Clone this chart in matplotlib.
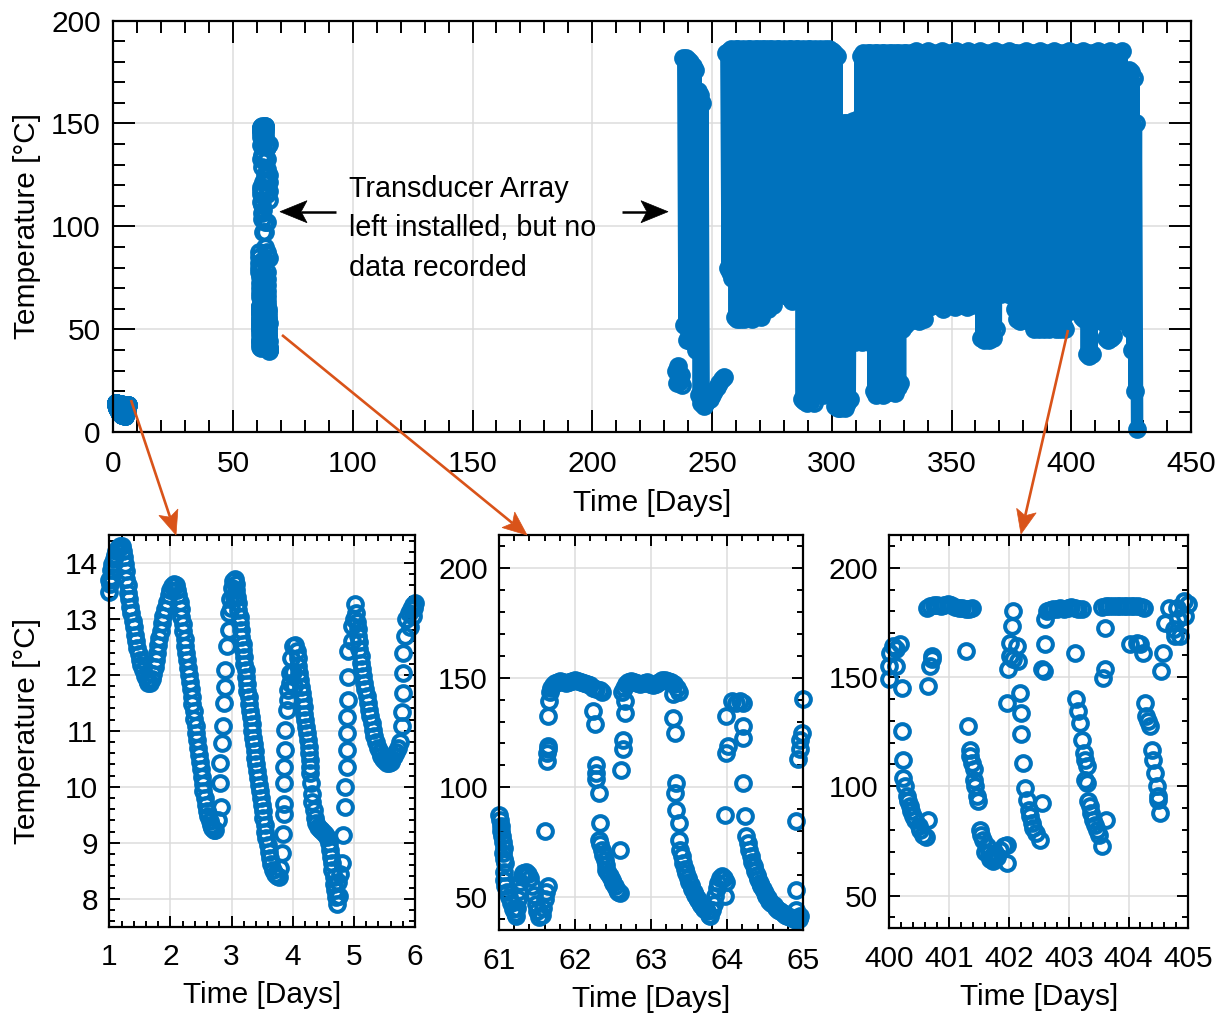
import matplotlib
matplotlib.use("Agg")
import matplotlib.pyplot as plt
import numpy as np
from matplotlib.ticker import MultipleLocator
from matplotlib.patches import Polygon
from matplotlib.lines import Line2D

plt.rcParams['font.family'] = ['Liberation Sans', 'DejaVu Sans']

BLUE = '#0072BD'
ORANGE = '#D95319'

# ---------------- data ----------------
# days 1-6 (day, temperature degC)
week1 = [
    (1.00, 13.49), (1.00, 13.70), (1.01, 13.62), (1.02, 13.75), (1.03, 13.88), (1.05, 13.98),
    (1.07, 14.08), (1.09, 14.15), (1.11, 14.22), (1.14, 14.27), (1.17, 14.30), (1.20, 14.30),
    (1.22, 14.22), (1.24, 14.10), (1.25, 13.98), (1.27, 13.85), (1.28, 13.72), (1.30, 13.60),
    (1.31, 13.47), (1.33, 13.35), (1.34, 13.22), (1.36, 13.10), (1.38, 12.97), (1.40, 12.85),
    (1.42, 12.72), (1.44, 12.60), (1.46, 12.48), (1.48, 12.37), (1.50, 12.27), (1.52, 12.18),
    (1.55, 12.08), (1.58, 11.98), (1.61, 11.90), (1.64, 11.86), (1.67, 11.86),
    (1.70, 11.92), (1.72, 12.02), (1.74, 12.14), (1.76, 12.27), (1.78, 12.40), (1.80, 12.53),
    (1.82, 12.66), (1.84, 12.79), (1.86, 12.92), (1.88, 13.05), (1.91, 13.18), (1.94, 13.30),
    (1.97, 13.42), (2.00, 13.52), (2.03, 13.58), (2.06, 13.62), (2.09, 13.60),
    (2.11, 13.52), (2.13, 13.42), (2.15, 13.30), (2.17, 13.17), (2.18, 13.04), (2.20, 12.91),
    (2.21, 12.78), (2.23, 12.65), (2.24, 12.52), (2.26, 12.39), (2.27, 12.26), (2.29, 12.13),
    (2.30, 12.00), (2.32, 11.87), (2.33, 11.74), (2.35, 11.61), (2.36, 11.48), (2.38, 11.35),
    (2.39, 11.22), (2.41, 11.09), (2.42, 10.96), (2.44, 10.83), (2.45, 10.70), (2.47, 10.57),
    (2.48, 10.44), (2.50, 10.31), (2.51, 10.18), (2.53, 10.05), (2.54, 9.92), (2.56, 9.80),
    (2.58, 9.68), (2.60, 9.57), (2.62, 9.47), (2.64, 9.39), (2.66, 9.32), (2.68, 9.27),
    (2.71, 9.23), (2.73, 9.22),
    (2.78, 9.40), (2.82, 9.64), (2.81, 10.06), (2.81, 10.42), (2.84, 10.78), (2.86, 11.08),
    (2.87, 11.49), (2.89, 11.79), (2.89, 12.09), (2.92, 12.51), (2.95, 12.81), (2.96, 13.10),
    (2.98, 13.35), (3.00, 13.55), (3.02, 13.68), (3.05, 13.72), (2.99, 13.20), (3.04, 13.40),
    (3.07, 13.62), (3.08, 13.52), (3.09, 13.40), (3.10, 13.28), (3.11, 13.16), (3.13, 13.04),
    (3.14, 12.92), (3.15, 12.80), (3.16, 12.68), (3.18, 12.56), (3.19, 12.44), (3.20, 12.32),
    (3.21, 12.20), (3.23, 12.08), (3.24, 11.96), (3.25, 11.84), (3.26, 11.72), (3.28, 11.60),
    (3.29, 11.48), (3.30, 11.36), (3.31, 11.24), (3.33, 11.12), (3.34, 11.00), (3.35, 10.88),
    (3.36, 10.76), (3.38, 10.64), (3.39, 10.52), (3.40, 10.40), (3.42, 10.28), (3.43, 10.16),
    (3.45, 10.04), (3.46, 9.92), (3.48, 9.80), (3.49, 9.68), (3.51, 9.56), (3.52, 9.44),
    (3.54, 9.32), (3.55, 9.20), (3.57, 9.08), (3.59, 8.96), (3.61, 8.84), (3.63, 8.72),
    (3.65, 8.62), (3.68, 8.52), (3.71, 8.45), (3.74, 8.40), (3.77, 8.39),
    (3.80, 8.55), (3.82, 8.81), (3.84, 9.16), (3.85, 9.52), (3.85, 9.70), (3.85, 10.06),
    (3.86, 10.36), (3.88, 10.66), (3.88, 11.02), (3.90, 11.37), (3.93, 11.73), (3.96, 12.03),
    (3.98, 12.30), (4.01, 12.51), (4.04, 12.54), (4.07, 12.42), (3.92, 11.55), (3.95, 11.85),
    (4.00, 12.05), (4.02, 11.80),
    (4.08, 12.30), (4.09, 12.15), (4.10, 12.03), (4.12, 11.91), (4.13, 11.79), (4.15, 11.67),
    (4.16, 11.55), (4.18, 11.43), (4.19, 11.31), (4.20, 11.19), (4.22, 11.07), (4.23, 10.96),
    (4.25, 10.84), (4.26, 10.72), (4.27, 10.60), (4.28, 10.48), (4.28, 10.36), (4.29, 10.24),
    (4.30, 10.06), (4.31, 9.88), (4.32, 9.73), (4.34, 9.58), (4.36, 9.45), (4.38, 9.35),
    (4.41, 9.28), (4.44, 9.25), (4.47, 9.22), (4.50, 9.20), (4.53, 9.15), (4.56, 9.10),
    (4.59, 9.00), (4.61, 8.87), (4.62, 8.75), (4.64, 8.63), (4.65, 8.51), (4.67, 8.39),
    (4.68, 8.27), (4.69, 8.15), (4.71, 8.03), (4.72, 7.91),
    (4.74, 8.30), (4.76, 8.05), (4.77, 8.45), (4.80, 8.63), (4.83, 9.13), (4.86, 9.64),
    (4.86, 10.00), (4.88, 10.36), (4.89, 10.66), (4.89, 10.96), (4.89, 11.25), (4.91, 11.55),
    (4.91, 11.97), (4.91, 12.42), (4.97, 12.60), (4.97, 12.87), (5.00, 13.00), (5.02, 13.26),
    (5.04, 13.10), (5.05, 12.95), (5.06, 12.82), (5.07, 12.70), (5.08, 12.58), (5.09, 12.46),
    (5.11, 12.34), (5.12, 12.22), (5.14, 12.10), (5.15, 11.98), (5.17, 11.86), (5.19, 11.74),
    (5.21, 11.62), (5.23, 11.50), (5.25, 11.38), (5.27, 11.26), (5.29, 11.14), (5.31, 11.02),
    (5.33, 10.90), (5.36, 10.80), (5.39, 10.70), (5.42, 10.62), (5.45, 10.55), (5.48, 10.50),
    (5.51, 10.46), (5.54, 10.43), (5.57, 10.43), (5.60, 10.45), (5.63, 10.50), (5.66, 10.55),
    (5.69, 10.62), (5.72, 10.70), (5.75, 10.80),
    (5.78, 11.08), (5.78, 11.34), (5.80, 11.67), (5.81, 12.03), (5.81, 12.39), (5.83, 12.69),
    (5.86, 12.99), (5.90, 13.10), (5.94, 13.17), (5.97, 13.25), (6.00, 13.29), (5.92, 12.85),
    (5.96, 13.05), (5.99, 13.20),
]

# days 61-65
days61 = [
    (61.00, 87.6), (61.01, 85.0), (61.02, 82.3), (61.03, 80.0), (61.04, 77.7), (61.05, 75.2),
    (61.06, 72.5), (61.05, 70.1), (61.07, 67.5), (61.08, 65.5), (61.07, 61.5), (61.06, 57.9),
    (61.08, 55.0), (61.10, 52.5), (61.13, 50.0), (61.16, 47.3), (61.19, 44.5), (61.21, 42.7),
    (61.23, 41.2),
    (61.24, 45.0), (61.25, 49.0), (61.26, 53.0), (61.28, 57.0), (61.30, 59.5), (61.32, 61.0),
    (61.35, 61.5), (61.38, 60.5), (61.41, 58.5), (61.44, 55.0), (61.46, 51.0), (61.48, 47.0),
    (61.50, 43.5), (61.53, 41.0), (61.56, 42.0), (61.58, 45.0), (61.60, 49.0), (61.62, 52.5),
    (61.64, 55.0), (61.60, 80.0),
    (61.63, 112.0), (61.63, 115.5), (61.64, 117.5), (61.64, 119.0), (61.65, 132.5), (61.66, 139.3),
    (61.67, 143.5), (61.69, 145.5), (61.71, 146.5), (61.74, 147.5), (61.77, 148.0), (61.80, 148.5),
    (61.84, 148.0), (61.88, 147.5), (61.92, 148.0), (61.96, 148.5), (62.00, 149.0), (62.04, 148.5),
    (62.08, 148.0), (62.12, 147.5), (62.16, 147.0), (62.20, 146.5), (62.24, 145.5), (62.28, 145.0),
    (62.33, 144.5), (62.36, 143.5),
    (62.24, 134.8), (62.26, 128.7), (62.28, 110.4), (62.28, 106.5), (62.28, 103.6), (62.31, 97.5),
    (62.33, 83.8), (62.31, 76.2), (62.33, 74.0), (62.35, 71.6), (62.37, 69.0), (62.39, 67.0),
    (62.40, 64.5), (62.41, 62.5), (62.43, 61.0), (62.46, 59.4), (62.48, 57.8), (62.50, 56.4),
    (62.52, 55.0), (62.55, 53.3), (62.57, 52.5), (62.59, 51.8), (62.59, 71.6),
    (62.61, 108.1), (62.63, 117.3), (62.63, 121.8), (62.66, 134.0), (62.66, 139.3),
    (62.62, 143.5), (62.64, 145.5), (62.67, 147.0), (62.70, 148.0), (62.74, 148.5), (62.78, 148.0),
    (62.82, 147.5), (62.86, 147.0), (62.90, 147.5), (62.94, 148.0), (62.98, 147.0), (63.02, 146.5),
    (63.06, 147.0), (63.10, 148.0), (63.14, 149.0), (63.18, 149.0), (63.22, 148.5), (63.26, 148.0),
    (63.30, 147.0), (63.34, 145.5), (63.37, 143.5),
    (63.29, 142.4), (63.29, 131.7), (63.31, 124.9), (63.33, 102.0), (63.31, 97.5), (63.33, 89.9),
    (63.36, 83.8), (63.36, 76.2), (63.38, 71.6), (63.40, 68.6), (63.42, 65.5),
    (63.44, 63.0), (63.46, 60.8), (63.48, 58.8), (63.50, 57.0), (63.52, 55.3), (63.54, 53.8),
    (63.56, 52.3), (63.58, 51.0), (63.60, 49.8), (63.62, 48.6), (63.64, 47.5), (63.66, 46.4),
    (63.68, 45.4), (63.70, 44.5), (63.73, 43.5), (63.76, 42.0), (63.78, 41.2),
    (63.80, 44.0), (63.82, 47.0), (63.84, 50.5), (63.86, 54.0), (63.88, 56.5), (63.90, 58.5),
    (63.93, 59.4), (63.96, 58.5), (63.98, 57.0), (63.97, 50.3),
    (63.97, 87.6), (63.99, 115.8), (64.01, 118.8), (63.99, 132.5), (64.06, 139.3), (64.12, 138.6),
    (64.17, 139.3), (64.21, 138.6), (64.21, 128.0), (64.21, 122.6), (64.21, 102.0), (64.23, 86.8),
    (64.25, 77.7),
    (64.27, 74.5), (64.29, 71.5), (64.31, 68.8), (64.33, 66.2), (64.35, 64.0), (64.37, 62.0),
    (64.39, 60.0), (64.41, 58.2), (64.43, 56.5), (64.45, 55.0), (64.47, 53.5), (64.49, 52.0),
    (64.51, 50.7), (64.53, 49.5), (64.55, 48.4), (64.58, 47.3), (64.61, 46.2), (64.64, 45.2),
    (64.67, 44.3), (64.70, 43.5), (64.73, 42.8), (64.76, 42.0), (64.79, 41.5), (64.82, 41.0),
    (64.85, 40.5), (64.88, 40.0), (64.91, 39.7), (64.94, 40.0), (64.96, 41.2),
    (64.91, 84.6), (64.91, 53.3), (64.91, 44.2), (64.93, 112.7), (64.96, 117.3), (64.98, 124.9),
    (65.00, 140.1), (64.96, 121.8),
]

# days 400-405
days400 = [
    (400.01, 161.2), (400.07, 164.2), (400.18, 165.0), (400.12, 162.7), (400.00, 155.1),
    (400.00, 149.0), (400.12, 155.1),
    (400.21, 145.1), (400.21, 125.2), (400.23, 112.2), (400.23, 103.8), (400.26, 100.0),
    (400.29, 95.4), (400.32, 93.1), (400.35, 90.8), (400.37, 88.5), (400.40, 86.3), (400.43, 84.7),
    (400.49, 81.7), (400.51, 80.2), (400.57, 77.8), (400.62, 77.0), (400.65, 84.7),
    (400.65, 145.9), (400.68, 155.1), (400.71, 158.1), (400.71, 159.6),
    (400.63, 181.5), (400.68, 182.5), (400.74, 183.0), (400.80, 183.0), (400.86, 182.5),
    (400.92, 183.0), (400.98, 183.5), (401.04, 183.0), (401.10, 182.0), (401.16, 181.5),
    (401.22, 181.5), (401.28, 181.0), (401.34, 181.0), (401.38, 181.5), (401.29, 162.0),
    (401.32, 127.5), (401.35, 116.8), (401.35, 113.8), (401.38, 110.7), (401.41, 107.7),
    (401.41, 103.1), (401.43, 100.0), (401.46, 95.4), (401.49, 93.1), (401.52, 80.1),
    (401.54, 77.8), (401.57, 75.5), (401.63, 72.5), (401.66, 69.4), (401.71, 67.9),
    (401.77, 69.4), (401.85, 71.0), (401.91, 72.5), (401.96, 73.3), (401.96, 64.8),
    (401.60, 70.0), (401.68, 66.5), (401.74, 66.0), (401.80, 67.5),
    (401.96, 138.2), (401.99, 153.5), (402.02, 159.6), (402.02, 165.8), (402.05, 173.4),
    (402.07, 180.2), (402.13, 164.2), (402.16, 157.3), (402.19, 142.8), (402.21, 133.6),
    (402.21, 123.7), (402.24, 110.7), (402.27, 99.2), (402.30, 93.9), (402.33, 89.3),
    (402.35, 86.3), (402.38, 83.2), (402.41, 80.9), (402.46, 78.6), (402.52, 75.5),
    (402.55, 92.3), (402.07, 158.1),
    (402.60, 176.5), (402.63, 180.2), (402.68, 180.5), (402.74, 181.0), (402.80, 181.0),
    (402.86, 181.5), (402.92, 181.0), (402.98, 181.5), (403.04, 182.0), (403.10, 181.5),
    (403.16, 181.0), (403.22, 181.0),
    (402.55, 153.5), (402.60, 165.0), (402.58, 152.8), (403.11, 161.2),
    (403.13, 139.8), (403.16, 134.4), (403.19, 129.0), (403.22, 121.4), (403.25, 115.3),
    (403.27, 112.2), (403.30, 109.2), (403.27, 103.1), (403.30, 101.5), (403.33, 93.1),
    (403.36, 90.8), (403.38, 87.8), (403.41, 84.7), (403.44, 82.4), (403.47, 80.1),
    (403.50, 77.8), (403.55, 72.5), (403.63, 84.7),
    (403.56, 182.0), (403.62, 182.5), (403.68, 182.5), (403.74, 182.5), (403.80, 182.5),
    (403.86, 182.5), (403.92, 182.5), (403.98, 182.5), (404.04, 182.5), (404.10, 182.5),
    (404.16, 182.5), (404.22, 182.0), (404.26, 181.5),
    (403.61, 172.6), (403.61, 153.5), (403.58, 149.7),
    (404.02, 165.0), (404.19, 165.0), (404.25, 161.2), (404.14, 165.8),
    (404.28, 138.2), (404.30, 132.1), (404.33, 129.8), (404.36, 127.5), (404.39, 116.8),
    (404.41, 112.2), (404.44, 106.1), (404.47, 100.0), (404.50, 95.4), (404.50, 93.9),
    (404.53, 87.8),
    (404.55, 152.8), (404.58, 161.2), (404.61, 174.9), (404.67, 181.8), (404.81, 181.8),
    (404.92, 184.9), (404.86, 168.8), (404.83, 176.5), (404.95, 178.0), (405.00, 183.3),
    (404.76, 171.9), (404.78, 168.8),
]

# days 235-237: short record before the array restarted
restart_cluster = [(235.0, 30.0), (235.5, 24.0), (236.0, 32.0), (236.5, 25.0), (237.0, 28.0), (237.3, 23.0)]

# days 238-246: daily highs / lows, then the cool tail up to day 255
early_days = [238, 239, 240, 241, 242, 243, 244, 245, 246]
early_high = [182, 182, 181, 180, 178, 176, 166, 164, 160]
early_low = [52, 45, 45, 44, 44, 40, 18, 14, 13]
early_tail = [(247, 14), (248, 15), (249, 16), (250, 18), (251, 20), (252, 22), (253, 24), (254, 26), (255, 27)]

# days 256-427: daily highs and lows
late_first_day = 256
late_high = [
    184, 185, 186, 185, 186, 186, 185, 186, 185, 186,
    186, 185, 186, 186, 185, 186, 186, 185, 186, 186,
    185, 186, 186, 185, 186, 185, 186, 186, 185, 186,
    186, 185, 186, 185, 186, 186, 185, 186, 185, 186,
    185, 186, 185, 186, 185, 184, 183, 150, 149, 150,
    150, 149, 150, 151, 150, 152, 183, 184, 183, 184,
    184, 183, 184, 184, 183, 184, 184, 183, 184, 184,
    183, 184, 184, 183, 184, 184, 183, 184, 184, 185,
    184, 184, 183, 184, 185, 184, 184, 183, 184, 184,
    185, 184, 184, 183, 184, 184, 185, 184, 183, 184,
    184, 185, 184, 184, 183, 184, 185, 184, 184, 183,
    184, 184, 185, 184, 184, 183, 184, 184, 185, 184,
    184, 184, 183, 184, 184, 185, 184, 184, 183, 184,
    184, 185, 184, 184, 183, 184, 184, 185, 184, 184,
    183, 184, 184, 185, 184, 184, 183, 184, 184, 185,
    184, 184, 183, 184, 184, 185, 184, 184, 183, 184,
    185, 184, 184, 183, 184, 185, 176, 175, 176, 175,
    172, 150,
]
late_low = [
    80, 78, 75,
    56, 55, 55, 56, 55, 57, 56, 55, 56, 58, 57, 56,
    60, 62, 60, 63, 62, 66,
    85, 86, 84, 80,
    66, 65, 64, 66, 65, 64,
    16, 15, 14, 15, 16, 14, 20, 22, 20, 18, 25, 30, 28, 18,
    13, 12, 12, 13, 12, 14, 16,
    45, 44, 46, 45, 44, 46, 45, 44, 46,
    20, 18, 19, 20, 18, 19, 20, 21, 20, 19, 22, 24,
    50, 52, 55, 54, 55, 56, 55, 54, 56, 55,
    62, 61, 63, 62, 64, 63, 62, 60, 62, 63, 64, 62, 61, 63, 62, 64, 62, 61, 63, 62, 64, 63, 62,
    46, 45, 46, 45, 47, 46, 50,
    68, 67, 68, 69, 67, 68, 66, 60,
    55, 54, 55, 56, 55, 54, 55,
    50, 51, 50, 52, 50, 51, 50, 52, 51, 50, 51, 50, 52, 50,
    60, 59, 60, 61, 60,
    58, 56, 55,
    38, 37, 38,
    55, 56, 55, 54, 55,
    46, 45, 46, 47,
    55, 54, 56, 55, 54, 55, 50,
    40, 20, 1.5,
]

# ---------------- figure ----------------
W, H = 1220, 1013
fig = plt.figure(figsize=(W / 100, H / 100), dpi=100)


def px_rect(left, top, right, bottom):
    return [left / W, 1 - bottom / H, (right - left) / W, (bottom - top) / H]


def px(x, y):
    return (x / W, 1 - y / H)


ax_top = fig.add_axes(px_rect(113.3, 20.5, 1191, 432.3))
ax1 = fig.add_axes(px_rect(109.3, 535, 415, 926.7))
ax2 = fig.add_axes(px_rect(499, 535, 803.3, 930))
ax3 = fig.add_axes(px_rect(889.3, 535, 1188.3, 928.3))

FS = 21.5
MARK = dict(ls='none', marker='o', ms=10.6, mfc='none', mec=BLUE, mew=2.9, clip_on=False, zorder=3)
TRACE = dict(color=BLUE, lw=9, solid_joinstyle='round', solid_capstyle='round', clip_on=False, zorder=3)


def style(ax, major_len, minor_len, xpad, ypad):
    ax.grid(True, which='major', color='#dcdcdc', lw=1.1)
    ax.set_axisbelow(True)
    ax.tick_params(which='both', direction='in', top=True, right=True, width=1.4,
                   labelsize=FS, colors='black')
    ax.tick_params(which='major', length=major_len)
    ax.tick_params(which='minor', length=minor_len)
    ax.tick_params(axis='x', which='both', pad=xpad)
    ax.tick_params(axis='y', which='both', pad=ypad)
    for s in ax.spines.values():
        s.set_linewidth(1.6)
        s.set_zorder(5)


def unzip(points):
    xs, ys = zip(*points)
    return np.array(xs), np.array(ys)


def daily_trace(days, highs, lows):
    xs, ys = [], []
    for d, h, l in zip(days, highs, lows):
        xs += [d, d + 0.5]
        ys += [h, l]
    return xs, ys


# ---- overview panel ----
for pts in (week1, days61):
    x, y = unzip(pts)
    ax_top.plot(x, y, **MARK)

x, y = unzip(restart_cluster)
ax_top.plot(x, y, **TRACE)
ax_top.plot(x, y, **MARK)

ex, ey = daily_trace(early_days, early_high, early_low)
tx, ty = unzip(early_tail)
ex = list(ex) + list(tx)
ey = list(ey) + list(ty)
ax_top.plot(ex, ey, **TRACE)
ax_top.plot(ex, ey, **MARK)

late_days = np.arange(late_first_day, late_first_day + len(late_high))
lx, ly = daily_trace(late_days, late_high, late_low)
ax_top.plot(lx, ly, **TRACE)
ax_top.plot(lx, ly, **MARK)

ax_top.set_xlim(0, 450)
ax_top.set_ylim(0, 200)
ax_top.xaxis.set_major_locator(MultipleLocator(50))
ax_top.xaxis.set_minor_locator(MultipleLocator(10))
ax_top.yaxis.set_major_locator(MultipleLocator(50))
ax_top.yaxis.set_minor_locator(MultipleLocator(10))
style(ax_top, 16, 8.5, 13, 9)
ax_top.set_xlabel('Time [Days]', fontsize=FS)
ax_top.set_ylabel('Temperature [°C]', fontsize=FS)
ax_top.xaxis.set_label_coords(0.5, -0.171)
ax_top.yaxis.set_label_coords(-0.080, 0.5)
ax_top.xaxis.label.set_va('center')
ax_top.yaxis.label.set_va('center')

# ---- zoomed panels ----
panels = [
    (ax1, week1, (1, 6), (7.5, 14.5), 1, 0.2, 1, 0.2),
    (ax2, days61, (61, 65), (35, 215), 1, 0.2, 50, 10),
    (ax3, days400, (400, 405), (35, 215), 1, 0.2, 50, 10),
]
for ax, pts, xl, yl, xmaj, xmin, ymaj, ymin in panels:
    x, y = unzip(pts)
    ax.plot(x, y, **MARK)
    ax.set_xlim(*xl)
    ax.set_ylim(*yl)
    ax.xaxis.set_major_locator(MultipleLocator(xmaj))
    ax.xaxis.set_minor_locator(MultipleLocator(xmin))
    ax.yaxis.set_major_locator(MultipleLocator(ymaj))
    ax.yaxis.set_minor_locator(MultipleLocator(ymin))
    style(ax, 8, 4.3, 12, 8)
    ax.set_xlabel('Time [Days]', fontsize=FS)
    ax.xaxis.set_label_coords(0.5, -0.175)
    ax.xaxis.label.set_va('center')

ax1.set_ylabel('Temperature [°C]', fontsize=FS)
ax1.yaxis.set_label_coords(-0.269, 0.5)
ax1.yaxis.label.set_va('center')


# ---- arrows (figure pixel coordinates) ----
def arrow(p0, p1, color, lw, head_len, head_w, notch=0.78):
    p0 = np.array(p0, float)
    p1 = np.array(p1, float)
    u = (p1 - p0) / np.linalg.norm(p1 - p0)
    n = np.array([-u[1], u[0]])
    back = p1 - u * head_len
    left = back + n * head_w / 2
    right = back - n * head_w / 2
    notch_pt = p1 - u * head_len * notch
    fig.add_artist(Line2D([p0[0] / W, notch_pt[0] / W], [1 - p0[1] / H, 1 - notch_pt[1] / H],
                          color=color, lw=lw, transform=fig.transFigure, solid_capstyle='butt'))
    verts = [px(*p1), px(*left), px(*notch_pt), px(*right)]
    fig.add_artist(Polygon(verts, closed=True, facecolor=color, edgecolor=color, lw=0.5,
                           transform=fig.transFigure))


arrow((131, 400), (176, 535), ORANGE, 1.9, 24, 20)
arrow((282, 335), (527, 535), ORANGE, 1.9, 24, 20)
arrow((1068, 330), (1021, 534), ORANGE, 1.9, 24, 20)
arrow((336, 211.7), (280, 211.7), 'black', 1.8, 27, 22)
arrow((622, 211.7), (668, 211.7), 'black', 1.8, 27, 22)

fig.text(349 / W, 1 - 175 / H, 'Transducer Array\nleft installed, but no\ndata recorded',
         fontsize=20.7, ha='left', va='top', linespacing=1.52)

fig.savefig('out.png', dpi=100)
